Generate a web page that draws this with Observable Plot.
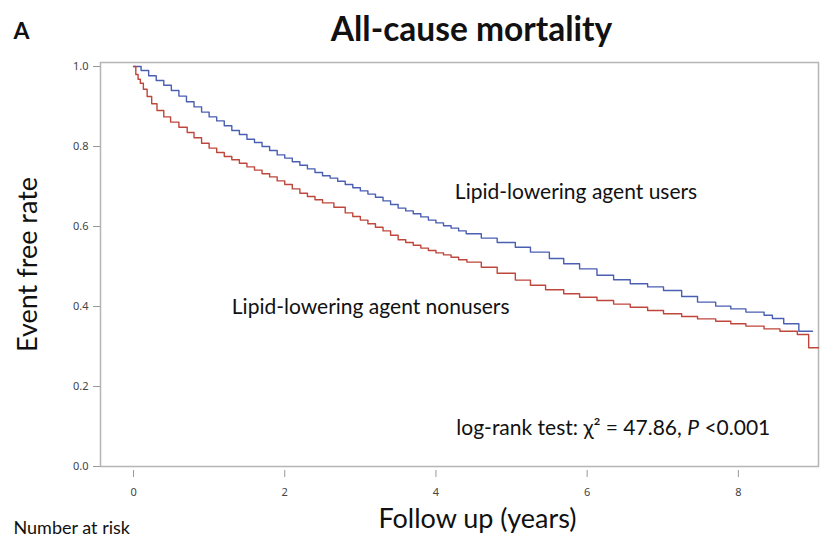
<!DOCTYPE html>
<html><head><meta charset="utf-8">
<script src="https://cdn.jsdelivr.net/npm/d3@7"></script>
<script src="https://cdn.jsdelivr.net/npm/@observablehq/plot@0.6"></script>
<style>body{margin:0;background:#fff;overflow:hidden}</style>
</head><body><div id="chart"></div>
<script>
const usersTime = [0,0.1,0.2,0.3,0.4,0.5,0.6,0.7,0.8,0.9,1.0,1.1,1.2,1.3,1.4,1.5,1.6,1.7,1.8,1.9,2.0,2.1,2.2,2.3,2.4,2.5,2.6,2.7,2.8,2.9,3.0,3.1,3.2,3.3,3.4,3.5,3.6,3.7,3.8,3.9,4.0,4.1,4.2,4.3,4.4,4.6,4.81,5.05,5.25,5.5,5.69,5.9,6.13,6.35,6.57,6.8,7.01,7.25,7.46,7.7,7.9,8.1,8.34,8.45,8.6,8.8,8.98];
const usersRate = [1.0,0.99,0.977,0.965,0.953,0.94,0.926,0.912,0.899,0.886,0.874,0.864,0.852,0.84,0.83,0.818,0.81,0.8,0.79,0.779,0.771,0.762,0.753,0.744,0.735,0.727,0.721,0.713,0.705,0.697,0.689,0.681,0.673,0.664,0.655,0.646,0.639,0.632,0.624,0.616,0.609,0.602,0.596,0.589,0.582,0.571,0.56,0.548,0.536,0.52,0.507,0.494,0.478,0.467,0.457,0.449,0.44,0.425,0.411,0.401,0.394,0.386,0.378,0.37,0.357,0.338,0.338];
const nonusersTime = [0,0.03,0.06,0.09,0.13,0.18,0.24,0.31,0.4,0.49,0.6,0.71,0.8,0.9,1.0,1.1,1.2,1.3,1.4,1.5,1.6,1.7,1.8,1.9,2.0,2.1,2.2,2.3,2.4,2.5,2.65,2.8,2.9,3.0,3.1,3.2,3.3,3.4,3.5,3.6,3.7,3.8,3.9,4.0,4.1,4.2,4.3,4.41,4.6,4.81,5.05,5.25,5.45,5.69,5.9,6.13,6.35,6.57,6.8,7.01,7.25,7.46,7.7,7.9,8.1,8.34,8.55,8.78,8.93,9.06];
const nonusersRate = [1.0,0.98,0.968,0.958,0.943,0.925,0.907,0.89,0.874,0.861,0.848,0.835,0.822,0.808,0.796,0.785,0.775,0.767,0.758,0.749,0.741,0.732,0.724,0.714,0.705,0.694,0.683,0.675,0.667,0.659,0.648,0.634,0.625,0.616,0.607,0.598,0.589,0.578,0.567,0.56,0.553,0.546,0.54,0.534,0.529,0.523,0.517,0.511,0.498,0.483,0.466,0.453,0.442,0.432,0.423,0.415,0.406,0.398,0.39,0.382,0.375,0.369,0.363,0.357,0.351,0.344,0.338,0.33,0.297,0.297];
const groupNames = ["Lipid-lowering agent users","Lipid-lowering agent nonusers"];
const groupColors = ["#4a5fb2","#bf463b"];
const xTicks = [0,2,4,6,8];
const yTicks = [0,0.2,0.4,0.6,0.8,1.0];
const annotTexts = ["Lipid-lowering agent users","Lipid-lowering agent nonusers","log-rank test: χ² = 47.86, P <0.001"];
const annotX = [4.25,1.3,4.27];
const annotY = [0.685,0.3975,0.095];

const rows = [];
usersTime.forEach((t,i)=>rows.push({t, v: usersRate[i], g: groupNames[0]}));
nonusersTime.forEach((t,i)=>rows.push({t, v: nonusersRate[i], g: groupNames[1]}));
const annots = annotTexts.map((s,i)=>({s, x: annotX[i], y: annotY[i]}));

const F = "Lato, 'Open Sans', sans-serif";
const chart = Plot.plot({
  width: 820, height: 540,
  marginTop: 62, marginBottom: 74, marginLeft: 100, marginRight: 2,
  x: {domain: [-0.437, 9.06]},
  y: {domain: [0, 1.01]},
  color: {domain: groupNames, range: groupColors},
  style: {fontFamily: F, background: "#fff"},
  marks: [
    Plot.frame({stroke: "#b5b5b5", strokeWidth: 1.5}),
    Plot.axisY(yTicks, {tickSize: 7, tickPadding: 5, tickFormat: d3.format(".1f"), stroke: "#999", fill: "#444", fontSize: 11, fontFamily: "'Noto Sans', sans-serif", label: null}),
    Plot.axisX(xTicks, {tickSize: 7, tickPadding: 11, dy: 4, stroke: "#999", fill: "#444", fontSize: 11, fontFamily: "'Noto Sans', sans-serif", label: null}),
    Plot.line(rows, {x: "t", y: "v", z: "g", stroke: "g", curve: "step-after", strokeWidth: 1.4}),
    Plot.text(annots, {x: "x", y: "y", text: "s", textAnchor: "start", lineAnchor: "middle", fontSize: 21, fill: "#111", fontFamily: F}),
    Plot.text(["All-cause mortality"], {frameAnchor: "top", dx: 12, dy: -32, lineAnchor: "middle", fontSize: 33.5, fontWeight: "bold", fill: "#111", fontFamily: F}),
    Plot.text(["A"], {frameAnchor: "top-left", dx: -79, dy: -31, textAnchor: "middle", lineAnchor: "middle", fontSize: 23, fontWeight: "bold", fill: "#111", fontFamily: F}),
    Plot.text(["Event free rate"], {frameAnchor: "left", dx: -72, rotate: -90, textAnchor: "middle", lineAnchor: "middle", fontSize: 27, fill: "#111", fontFamily: F}),
    Plot.text(["Follow up (years)"], {frameAnchor: "bottom", dx: 18, dy: 53, textAnchor: "middle", lineAnchor: "middle", fontSize: 27, fill: "#111", fontFamily: F}),
    Plot.text(["Number at risk"], {frameAnchor: "bottom-left", dx: -87, dy: 67, textAnchor: "start", lineAnchor: "bottom", fontSize: 18, fill: "#111", fontFamily: F})
  ]
});
d3.select(chart).selectAll("text").each(function(){
  const el = d3.select(this);
  if (el.text() === annotTexts[2]) {
    el.text(null);
    el.append("tspan").text("log-rank test: χ² = 47.86, ");
    el.append("tspan").attr("font-style","italic").text("P");
    el.append("tspan").text(" <0.001");
  }
});
document.getElementById("chart").appendChild(chart);
</script>
</body></html>
